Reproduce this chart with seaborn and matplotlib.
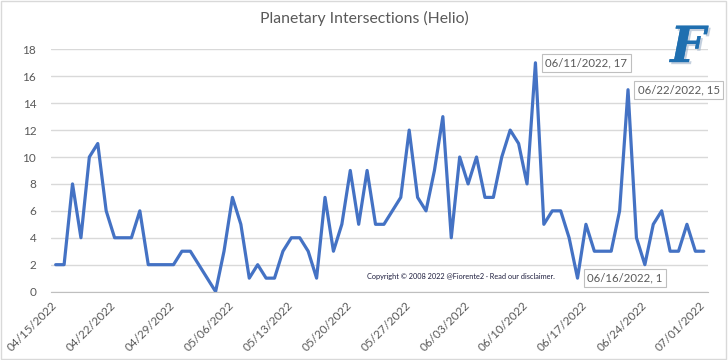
import pandas as pd
import seaborn as sns
import matplotlib
matplotlib.use("Agg")
import matplotlib.pyplot as plt
from matplotlib.patches import Rectangle
import matplotlib.patheffects as pe

# Daily counts, 04/15/2022 .. 07/01/2022
start_date = "2022-04-15"
counts = [2, 2, 8, 4, 10, 11, 6, 4, 4, 4, 6, 2, 2, 2, 2, 3, 3, 2, 1, 0,
          3, 7, 5, 1, 2, 1, 1, 3, 4, 4, 3, 1, 7, 3, 5, 9, 5, 9, 5, 5,
          6, 7, 12, 7, 6, 9, 13, 4, 10, 8, 10, 7, 7, 10, 12, 11, 8, 17, 5, 6,
          6, 4, 1, 5, 3, 3, 3, 6, 15, 4, 2, 5, 6, 3, 3, 5, 3, 3]
callouts = ["06/11/2022", "06/16/2022", "06/22/2022"]
y_ticks = [0, 2, 4, 6, 8, 10, 12, 14, 16, 18]

dates = pd.date_range(start_date, periods=len(counts), freq="D")
df = pd.DataFrame({"date": dates, "count": counts})
df["pos"] = range(len(df))
df["pos"] = df["pos"] + 0.5  # points sit between tick marks
tick_pos = list(range(0, len(df), 7))
tick_labels = [dates[i].strftime("%m/%d/%Y") for i in tick_pos]

sns.set_style("white")
plt.rcParams["font.family"] = ["Lato", "DejaVu Sans"]
txt_gray = "#595959"

fig = plt.figure(figsize=(7.28, 3.6), dpi=100)
ax = fig.add_axes([0.0707, 0.19, 0.9018, 0.673])

sns.lineplot(data=df, x="pos", y="count", color="#4472C4", linewidth=2.3, ax=ax)

ax.set_xlim(0, len(df))
ax.set_ylim(0, 18)
ax.set_yticks(y_ticks)
ax.set_xticks(tick_pos)
ax.set_xticklabels(tick_labels, rotation=45, ha="right", rotation_mode="anchor")
ax.tick_params(axis="x", length=4, color="#BFBFBF", labelsize=8.5, labelcolor=txt_gray, pad=2)
ax.tick_params(axis="y", length=0, labelsize=8.5, labelcolor=txt_gray, pad=11)
ax.grid(axis="y", color="#D9D9D9", linewidth=1)
ax.set_axisbelow(True)
for s in ["top", "right", "left"]:
    ax.spines[s].set_visible(False)
ax.spines["bottom"].set_color("#BFBFBF")
ax.set_xlabel("")
ax.set_ylabel("")

fig.text(0.5, 0.948, "Planetary Intersections (Helio)", ha="center", va="center",
         fontsize=11.3, color=txt_gray)

# data callouts
for d in callouts:
    row = df[df["date"] == pd.Timestamp(d)].iloc[0]
    ax.annotate(f"{d}, {row['count']}", xy=(row["pos"], row["count"]),
                xytext=(7, 0), textcoords="offset points", ha="left", va="center",
                fontsize=8.2, color=txt_gray,
                bbox=dict(boxstyle="square,pad=0.3", fc="white", ec="#BFBFBF", lw=0.8))

fig.text(0.504, 0.231, "Copyright \u00a9 2008 2022 @Fiorente2 \u00b7 Read our disclaimer.",
         fontsize=5.3, color="#1F1F3F", ha="left", va="center")

# logo
fig.text(0.945, 0.865, "F", fontsize=36, color="#1F6FB0", ha="center", va="center",
         family=["DejaVu Serif", "DejaVu Sans"], style="italic", weight="bold",
         path_effects=[pe.withSimplePatchShadow(offset=(1.5, -1.5), shadow_rgbFace="#9BB0C8", alpha=0.6),
                       pe.Normal()])

fig.patches.append(Rectangle((0.002, 0.004), 0.995, 0.992, transform=fig.transFigure,
                             fill=False, ec="#D9D9D9", lw=1))

fig.savefig("out.png", dpi=100)
